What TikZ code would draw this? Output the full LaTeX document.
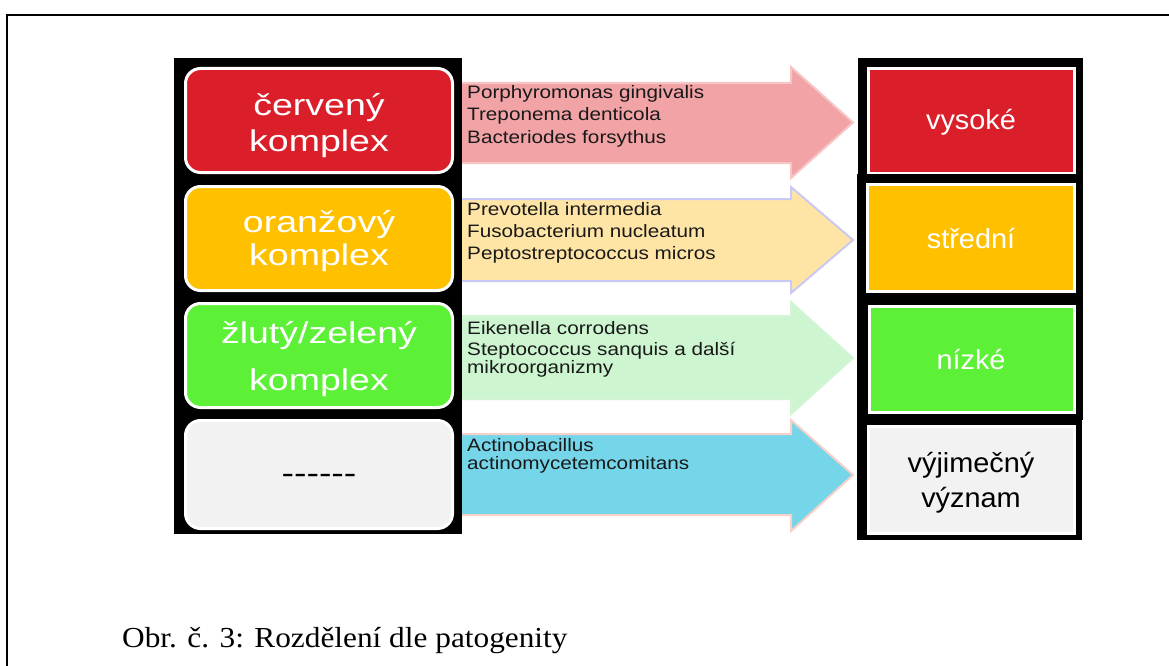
\documentclass[tikz,border=0pt]{standalone}
\usepackage{fontspec}
\setmainfont{Liberation Sans}
\newfontfamily\capfont{Liberation Serif}
\usepackage{graphicx}
\definecolor{cred}{HTML}{DA1F2A}
\definecolor{corange}{HTML}{FFC000}
\definecolor{cgreen}{HTML}{5CF137}
\definecolor{cgray}{HTML}{F2F2F2}
\definecolor{ared}{HTML}{F2A3A6}
\definecolor{aredb}{HTML}{F6C5C5}
\definecolor{aorange}{HTML}{FFE5A5}
\definecolor{aorangeb}{HTML}{C9C9F3}
\definecolor{agreen}{HTML}{CDF5D0}
\definecolor{agreenb}{HTML}{D3F5D6}
\definecolor{ablue}{HTML}{75D6E9}
\definecolor{ablueb}{HTML}{F6D0C9}
\newcommand\sx[2]{\scalebox{#1}[1]{#2}}
\newcommand\myarrow[7]{%
  \filldraw[fill=#6, draw=#7, line width=2pt, line join=miter]
    (455,#1) -- (791,#1) -- (791,#3) -- (853,#5) -- (791,#4) -- (791,#2) -- (455,#2) -- cycle;}
\begin{document}
\begin{tikzpicture}[x=1pt,y=-1pt,
  lbox/.style={draw=white, line width=3pt, rounded corners=15pt, minimum width=267pt, minimum height=104pt, inner sep=0pt},
  rframe/.style={fill=black, inner sep=0pt},
  rbox/.style={draw=white, line width=3pt, inner sep=0pt},
  bigtxt/.style={font=\fontsize{30}{34}\selectfont, inner sep=0pt, anchor=base},
  rtxt/.style={font=\fontsize{27.5}{31}\selectfont, inner sep=0pt, anchor=base},
  sptxt/.style={font=\fontsize{18}{20}\selectfont, inner sep=0pt, anchor=base west, text=black!90},
  captxt/.style={font=\capfont\fontsize{29}{33}\selectfont, inner sep=0pt, anchor=base west}
]
\useasboundingbox (0,0) rectangle (1169,666);
\fill[white] (0,0) rectangle (1169,666);
\draw[line width=2pt] (7,667) -- (7,15) -- (1170,15);

% block arrows
\myarrow{83}{163}{67}{178}{122.5}{ared}{aredb}
\myarrow{199}{281}{187}{293}{240}{aorange}{aorangeb}
\myarrow{316}{399}{302}{414}{358}{agreen}{agreenb}
\myarrow{434}{515}{420}{531}{475}{ablue}{ablueb}

% left panel
\fill[black] (174,58) rectangle (462,534);
\node[lbox, fill=cred] (L1) at (319,120.5) {};
\node[lbox, fill=corange] (L2) at (319,238.5) {};
\node[lbox, fill=cgreen] (L3) at (319,355.5) {};
\node[lbox, fill=cgray, minimum height=108pt] (L4) at (319,474.5) {};

\node[bigtxt, text=white] (L1a) at (319,116) {\sx{1.25}{červený}};
\node[bigtxt, text=white] (L1b) at (319,151) {\sx{1.25}{komplex}};
\node[bigtxt, text=white] (L2a) at (319,232) {\sx{1.25}{oranžový}};
\node[bigtxt, text=white] (L2b) at (319,265) {\sx{1.25}{komplex}};
\node[bigtxt, text=white] (L3a) at (319,343) {\sx{1.25}{žlutý/zelený}};
\node[bigtxt, text=white] (L3b) at (319,390) {\sx{1.25}{komplex}};
\node[bigtxt, text=black] (L4a) at (319,483) {\sx{1.25}{-{}-{}-{}-{}-{}-}};

% right boxes
\path[rframe] (858,58) rectangle (1083,176);
\node[rbox, fill=cred, minimum width=206pt, minimum height=105pt] (R1) at (971.5,121) {};
\path[rframe] (857,174) rectangle (1083,297);
\node[rbox, fill=corange, minimum width=207pt, minimum height=107pt] (R2) at (971,238) {};
\path[rframe] (857,295) rectangle (1083,420);
\node[rbox, fill=cgreen, minimum width=205pt, minimum height=106pt] (R3) at (972,359.5) {};
\path[rframe] (857,420) rectangle (1082,540);
\node[rbox, fill=cgray, minimum width=206pt, minimum height=107pt] (R4) at (971,480) {};

\node[rtxt, text=white] (R1a) at (971,130) {\sx{1.05}{vysoké}};
\node[rtxt, text=white] (R2a) at (971,248) {\sx{1.05}{střední}};
\node[rtxt, text=white] (R3a) at (971,369) {\sx{1.05}{nízké}};
\node[rtxt, text=black] (R4a) at (971,472) {\sx{1.05}{výjimečný}};
\node[rtxt, text=black] (R4b) at (971,507) {\sx{1.05}{význam}};

% species
\node[sptxt] (S1a) at (467,99) {\sx{1.15}{Porphyromonas gingivalis}};
\node[sptxt] (S1b) at (467,121) {\sx{1.15}{Treponema denticola}};
\node[sptxt] (S1c) at (467,143) {\sx{1.15}{Bacteriodes forsythus}};
\node[sptxt] (S2a) at (467,215.7) {\sx{1.15}{Prevotella intermedia}};
\node[sptxt] (S2b) at (467,237.3) {\sx{1.15}{Fusobacterium nucleatum}};
\node[sptxt] (S2c) at (467,259) {\sx{1.15}{Peptostreptococcus micros}};
\node[sptxt] (S3a) at (467,334) {\sx{1.15}{Eikenella corrodens}};
\node[sptxt] (S3b) at (467,355.7) {\sx{1.15}{Steptococcus sanquis a další}};
\node[sptxt] (S3c) at (467,373.3) {\sx{1.15}{mikroorganizmy}};
\node[sptxt] (S4a) at (467,451.7) {\sx{1.15}{Actinobacillus}};
\node[sptxt] (S4b) at (467,469.3) {\sx{1.15}{actinomycetemcomitans}};

% caption
\node[captxt] (cap) at (122,647) {\sx{1.08}{Obr. č. 3: Rozdělení dle patogenity}};
\end{tikzpicture}
\end{document}
